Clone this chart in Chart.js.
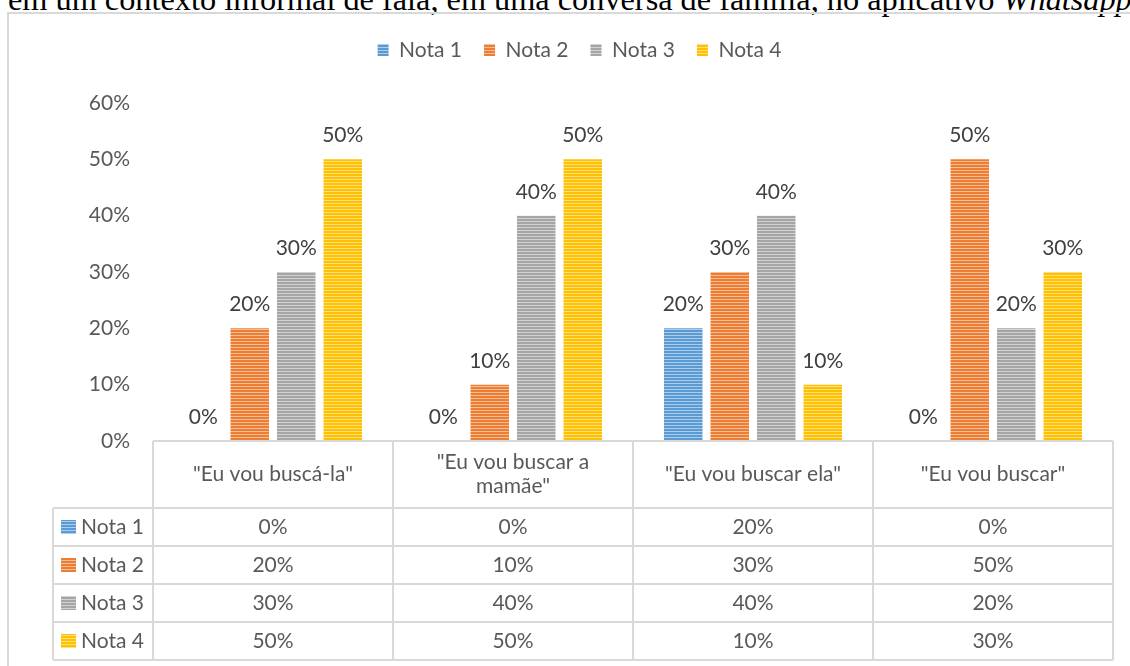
<!DOCTYPE html>
<html>
<head>
<meta charset="utf-8">
<script src="https://cdn.jsdelivr.net/npm/chart.js@4.4.1/dist/chart.umd.min.js"></script>
<style>
  html, body { margin: 0; padding: 0; background: #fff; overflow: hidden; }
  body { width: 1130px; height: 666px; position: relative; }
  #caption {
    position: absolute; left: 8px; top: -17px; white-space: nowrap;
    font-family: "Liberation Serif", "DejaVu Serif", serif; font-size: 32.3px; line-height: 1; color: #000;
  }
  #frame {
    position: absolute; left: 7px; top: 12px; width: 1200px; height: 700px;
    border: 2px solid #d9d9d9; box-sizing: border-box;
  }
  #chart { position: absolute; left: 0; top: 0; }
</style>
</head>
<body>
<div id="caption">em um contexto informal de fala, em uma conversa de família, no aplicativo <i>Whatsapp</i></div>
<div id="frame"></div>
<canvas id="chart" width="1130" height="666"></canvas>
<script>
// chart data
const categories = ['"Eu vou buscá-la"', ['"Eu vou buscar a', 'mamãe"'], '"Eu vou buscar ela"', '"Eu vou buscar"'];
const seriesNames = ['Nota 1', 'Nota 2', 'Nota 3', 'Nota 4'];
const nota1 = [0, 0, 0.2, 0];
const nota2 = [0.2, 0.1, 0.3, 0.5];
const nota3 = [0.3, 0.4, 0.4, 0.2];
const nota4 = [0.5, 0.5, 0.1, 0.3];
const yTicks = [0, 0.1, 0.2, 0.3, 0.4, 0.5, 0.6];

const colors = ['#5b9bd5', '#ed7d31', '#a5a5a5', '#ffc000'];
const FONT = 'Lato, "Open Sans", sans-serif';
const FS = 21;
const pct = v => Math.round(v * 100) + '%';

// horizontal stripe fill like the Excel pattern
function stripes(color) {
  const c = document.createElement('canvas');
  c.width = 4; c.height = 3;
  const g = c.getContext('2d');
  g.fillStyle = color;
  g.fillRect(0, 0, 4, 3);
  g.fillStyle = 'rgba(255,255,255,0.5)';
  g.fillRect(0, 2, 4, 1);
  return g.createPattern(c, 'repeat');
}
const fills = colors.map(stripes);

// labels above each bar
const barLabels = {
  id: 'barLabels',
  afterDatasetsDraw(chart) {
    const ctx = chart.ctx;
    ctx.save();
    ctx.font = FS + 'px ' + FONT;
    ctx.fillStyle = '#404040';
    ctx.textAlign = 'center';
    ctx.textBaseline = 'alphabetic';
    chart.data.datasets.forEach((ds, i) => {
      chart.getDatasetMeta(i).data.forEach((bar, j) => {
        ctx.fillText(pct(ds.data[j]), bar.x, bar.y - 17);
      });
    });
    ctx.restore();
  }
};

// data table under the plot
const dataTable = {
  id: 'dataTable',
  afterDraw(chart) {
    const ctx = chart.ctx;
    const xs = chart.scales.x;
    const area = chart.chartArea;
    const colW = (area.right - area.left) / categories.length;
    const top = area.bottom;
    const headH = 67, rowH = 38, keyLeft = 53;
    const rowsTop = top + headH;
    const bottom = rowsTop + rowH * seriesNames.length;

    ctx.save();
    ctx.strokeStyle = '#d9d9d9';
    ctx.lineWidth = 2;
    ctx.beginPath();
    ctx.moveTo(area.left, top); ctx.lineTo(area.right, top);
    for (let r = 0; r <= seriesNames.length; r++) {
      const y = rowsTop + r * rowH;
      ctx.moveTo(keyLeft, y); ctx.lineTo(area.right, y);
    }
    ctx.moveTo(keyLeft, rowsTop); ctx.lineTo(keyLeft, bottom);
    for (let c = 0; c <= categories.length; c++) {
      const x = area.left + c * colW;
      ctx.moveTo(x, top); ctx.lineTo(x, bottom);
    }
    ctx.stroke();

    ctx.font = FS + 'px ' + FONT;
    ctx.fillStyle = '#595959';
    ctx.textAlign = 'center';
    ctx.textBaseline = 'middle';
    categories.forEach((cat, i) => {
      const x = xs.getPixelForValue(i);
      const lines = Array.isArray(cat) ? cat : [cat];
      lines.forEach((ln, k) => {
        const y = top + headH / 2 + (k - (lines.length - 1) / 2) * 24;
        ctx.fillText(ln, x, y);
      });
    });

    chart.data.datasets.forEach((ds, r) => {
      const y = rowsTop + r * rowH + rowH / 2;
      ds.data.forEach((v, i) => {
        ctx.fillText(pct(v), xs.getPixelForValue(i), y);
      });
      ctx.fillStyle = fills[r];
      ctx.fillRect(keyLeft + 8, y - 7, 15, 14);
      ctx.fillStyle = '#595959';
      ctx.textAlign = 'left';
      ctx.fillText(ds.label, keyLeft + 28, y);
      ctx.textAlign = 'center';
    });
    ctx.restore();
  }
};

// push the plot down below the legend, and centre the legend on the frame
const legendGap = {
  id: 'legendGap',
  afterInit(chart) {
    const fit = chart.legend.fit;
    chart.legend.fit = function () {
      fit.call(this);
      this.height += 32.5;
    };
  },
  afterLayout(chart) {
    chart.legend.left += 23;
    chart.legend.right += 23;
  }
};

const seriesData = [nota1, nota2, nota3, nota4];

new Chart(document.getElementById('chart'), {
  type: 'bar',
  data: {
    labels: categories,
    datasets: seriesNames.map((name, i) => ({
      label: name,
      data: seriesData[i],
      backgroundColor: fills[i],
      borderWidth: 0,
      categoryPercentage: 0.775,
      barPercentage: 0.828
    }))
  },
  options: {
    responsive: false,
    devicePixelRatio: 1,
    animation: false,
    layout: { padding: { top: 17.5, left: 0, right: 17, bottom: 225 } },
    plugins: {
      tooltip: { enabled: false },
      legend: {
        position: 'top',
        labels: {
          font: { family: FONT, size: FS },
          color: '#595959',
          boxWidth: 11,
          boxHeight: 12,
          padding: 22
        }
      }
    },
    scales: {
      x: {
        display: false,
        grid: { display: false }
      },
      y: {
        min: 0,
        max: 0.6,
        afterBuildTicks(scale) {
          scale.ticks = yTicks.map(v => ({ value: v }));
        },
        afterFit(scale) { scale.width = 153; },
        grid: { display: false, drawTicks: false },
        border: { display: false },
        ticks: {
          padding: 23,
          color: '#595959',
          font: { family: FONT, size: FS },
          callback: v => pct(v)
        }
      }
    }
  },
  plugins: [barLabels, dataTable, legendGap]
});
</script>
</body>
</html>
